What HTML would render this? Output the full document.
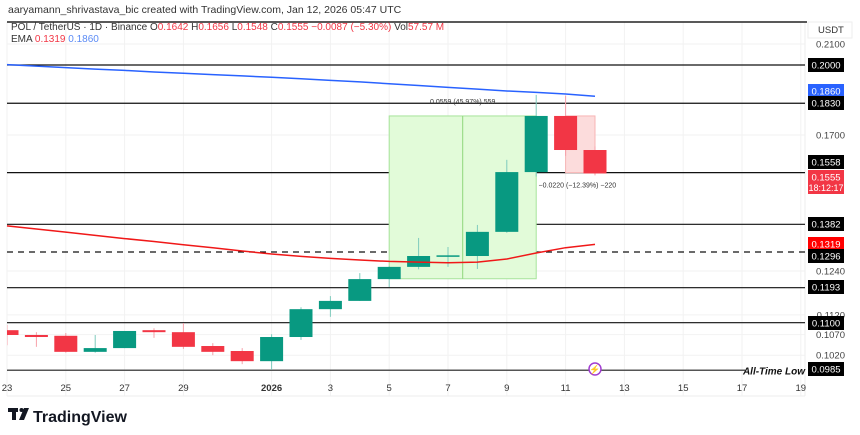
<!DOCTYPE html>
<html><head><meta charset="utf-8"><style>
body{margin:0;background:#fff;width:860px;height:435px;overflow:hidden;font-family:"Liberation Sans",sans-serif}
svg{display:block}
</style></head><body>
<svg id="c" width="860" height="435" font-family="Liberation Sans, sans-serif">
<defs><clipPath id="pane"><rect x="7" y="22" width="798" height="374"/></clipPath></defs>
<text x="8" y="13" font-size="10.5" fill="#333">aaryamann_shrivastava_bic created with TradingView.com, Jan 12, 2026 05:47 UTC</text>
<g id="grid"></g>
<line x1="7" y1="22" x2="807" y2="22" stroke="#222" stroke-width="1.5"/>
<g id="levels"></g>
<g id="measure"></g>
<g id="candles" clip-path="url(#pane)"></g>
<g id="ema"></g>
<g id="axis"></g>
<text x="11" y="30" font-size="10" fill="#333">POL / TetherUS · 1D · Binance  O<tspan fill="#f23645">0.1642</tspan> H<tspan fill="#f23645">0.1656</tspan> L<tspan fill="#f23645">0.1548</tspan> C<tspan fill="#f23645">0.1555</tspan> <tspan fill="#f23645">−0.0087 (−5.30%)</tspan> Vol<tspan fill="#f23645">57.57 M</tspan></text>
<text x="11" y="42" font-size="10" fill="#333">EMA <tspan fill="#f23645">0.1319</tspan> <tspan fill="#5b8bf5">0.1860</tspan></text>
<g><rect x="808" y="22" width="44" height="16" fill="#fff" stroke="#eee"/><text x="818" y="33" font-size="9.5" fill="#333">USDT</text></g>
<g><circle cx="595" cy="369" r="6" fill="#fff" stroke="#a23ed1" stroke-width="1.5"/><text x="595" y="372.5" font-size="9" fill="#a23ed1" text-anchor="middle">⚡</text></g>
<g><rect x="8" y="408" width="10" height="4" fill="#131722"/><rect x="12" y="408" width="4" height="12" fill="#131722"/><circle cx="21.5" cy="410" r="2" fill="#131722"/><path d="M24 408 L29 408 L24 420 L19 420 Z" fill="#131722"/><text x="33" y="422" font-size="16" font-weight="bold" fill="#131722">TradingView</text></g>
</svg>
<script>
const days=["23","24","25","26","27","28","29","30","31","2026","2","3","4","5","6","7","8","9","10","11","12"];
const opens=[0.1081,0.1069,0.1067,0.1028,0.1037,0.1081,0.1076,0.1042,0.1030,0.1006,0.1064,0.1135,0.1157,0.1217,0.1252,0.1284,0.1284,0.1358,0.1560,0.1777,0.1642];
const highs=[0.1094,0.1076,0.1074,0.1069,0.1079,0.1086,0.1099,0.1049,0.1037,0.1071,0.1140,0.1170,0.1234,0.1254,0.1339,0.1311,0.1380,0.1605,0.1866,0.1863,0.1656];
const lows=[0.1044,0.1040,0.1026,0.1026,0.1037,0.1062,0.1035,0.1020,0.0999,0.0986,0.1057,0.1115,0.1157,0.1195,0.1245,0.1252,0.1246,0.1355,0.1544,0.1620,0.1548];
const closes=[0.1069,0.1064,0.1028,0.1037,0.1079,0.1076,0.1040,0.1028,0.1006,0.1064,0.1135,0.1157,0.1217,0.1252,0.1284,0.1286,0.1358,0.1560,0.1777,0.1642,0.1555];
const emaSlow=[0.2002,0.1995,0.1988,0.1981,0.1975,0.1968,0.1962,0.1956,0.1950,0.1944,0.1937,0.1930,0.1923,0.1915,0.1907,0.1899,0.1891,0.1883,0.1877,0.1870,0.1860];
const emaFast=[0.1377,0.1367,0.1357,0.1347,0.1337,0.1328,0.1318,0.1309,0.1299,0.1290,0.1283,0.1277,0.1272,0.1268,0.1266,0.1264,0.1266,0.1275,0.1293,0.1309,0.1319];
const levels=[0.2000,0.1830,0.1558,0.1382,0.1296,0.1193,0.1100,0.0985];
const tickLabels=["0.2100","0.1700","0.1240","0.1120","0.1070","0.1020"];
const xTickLabels=["23","25","27","29","2026","3","5","7","9","11","13","15","17","19"];
const xTickDay=[0,2,4,6,9,11,13,15,17,19,21,23,25,27];
const NS="http://www.w3.org/2000/svg";
function y(p){return 65+431*(Math.log(0.2)-Math.log(p));}
function x(i){return 7+i*29.4;}
function el(t,a,parent){const e=document.createElementNS(NS,t);for(const k in a)e.setAttribute(k,a[k]);document.getElementById(parent).appendChild(e);return e;}
xTickLabels.forEach((l,j)=>{const i=xTickDay[j];
 const g=el('line',{x1:x(i),x2:x(i),y1:22,y2:396,stroke:'#f2f2f2'},'grid');
 
 
 const t=el('text',{x:x(i),y:391,'font-size':9.5,fill:'#333','text-anchor':'middle','font-weight':l==='2026'?'bold':'normal'},'axis');t.textContent=l;
 
 
});
tickLabels.forEach(l=>{const p=parseFloat(l);
 const g=el('line',{x1:7,x2:805,y1:y(p),y2:y(p),stroke:'#f2f2f2'},'grid');
 
 
 const t=el('text',{x:845,y:y(p)+3.5,'font-size':9.5,fill:'#444','text-anchor':'end'},'axis');t.textContent=l;
 
 
});
el('line',{x1:805,x2:805,y1:22,y2:396,stroke:'#eee'},'grid');
el('line',{x1:7,x2:805,y1:396,y2:396,stroke:'#eee'},'grid');
levels.forEach(p=>{const yy=y(p);const atl=p===0.0985;
 const l=el('line',{x1:7,x2:atl?745:805,y1:yy,y2:yy,stroke:atl?'#555':'#111','stroke-width':atl?1.6:1.2,'stroke-dasharray':p===0.1296?'6,5':'none'},'levels');
 
 
});
const lt=el('text',{x:805,y:y(0.0985)+4,'font-size':10,'font-weight':'bold','font-style':'italic',fill:'#111','text-anchor':'end'},'levels');lt.textContent='All-Time Low';


const mg=el('rect',{x:x(13),y:y(0.1777),width:x(18)-x(13),height:y(0.1218)-y(0.1777),fill:'#e2fbd9',stroke:'#a6e39a'},'measure');


el('line',{x1:x(15.5),x2:x(15.5),y1:y(0.1218),y2:y(0.1777),stroke:'#8fd87c'},'measure');
const mt=el('text',{x:x(15.5),y:y(0.1777)-12,'font-size':7,fill:'#333','text-anchor':'middle'},'measure');mt.textContent='0.0559 (45.97%) 559';


const mr=el('rect',{x:x(19),y:y(0.1777),width:x(20)-x(19),height:y(0.1558)-y(0.1777),fill:'#fcdcdc',stroke:'#f7b5b5'},'measure');


const mrt=el('text',{x:x(19.4),y:y(0.1558)+15,'font-size':7,fill:'#333','text-anchor':'middle'},'measure');mrt.textContent='−0.0220 (−12.39%) −220';


days.forEach((d,i)=>{const up=closes[i]>=opens[i];const c=up?'#089981':'#f23645';const cx=x(i);
 const w=el('line',{x1:cx,x2:cx,y1:y(highs[i]),y2:y(lows[i]),stroke:up?'#7fcbbd':'#f7a1aa'},'candles');
 
 
 const t=Math.min(y(opens[i]),y(closes[i]));const h=Math.max(1.5,Math.abs(y(opens[i])-y(closes[i])));
 const b=el('rect',{x:cx-11.5,y:t,width:23,height:h,fill:c},'candles');
 
 
});
function path(arr){return arr.map((v,i)=>(i?'L':'M')+x(i)+','+y(v)).join(' ');}
const e1=el('path',{d:path(emaSlow),fill:'none',stroke:'#2962ff','stroke-width':1.5},'ema');


const e2=el('path',{d:path(emaFast),fill:'none',stroke:'#f01818','stroke-width':1.5},'ema');


function tag(yy,bg,txt,extra){
 const r=el('rect',{x:808,y:yy-7,width:36,height:extra?24:14,fill:bg},'axis');
 
 
 const t=el('text',{x:826,y:yy+3.5,'font-size':9.5,fill:'#fff','text-anchor':'middle'},'axis');t.textContent=txt;
 
 
 if(extra){const t2=el('text',{x:826,y:yy+14,'font-size':9,fill:'#fff','text-anchor':'middle'},'axis');t2.textContent=extra;
 
 }
}
tag(y(0.2),'#000','0.2000');
tag(91,'#2962ff','0.1860');
tag(103,'#000','0.1830');
tag(162,'#000','0.1558');
tag(177,'#f23645','0.1555','18:12:17');
tag(224,'#000','0.1382');
tag(244,'#ff0000','0.1319');
tag(256,'#000','0.1296');
tag(287,'#000','0.1193');
tag(323,'#000','0.1100');
tag(369,'#000','0.0985');
</script>
</body></html>
